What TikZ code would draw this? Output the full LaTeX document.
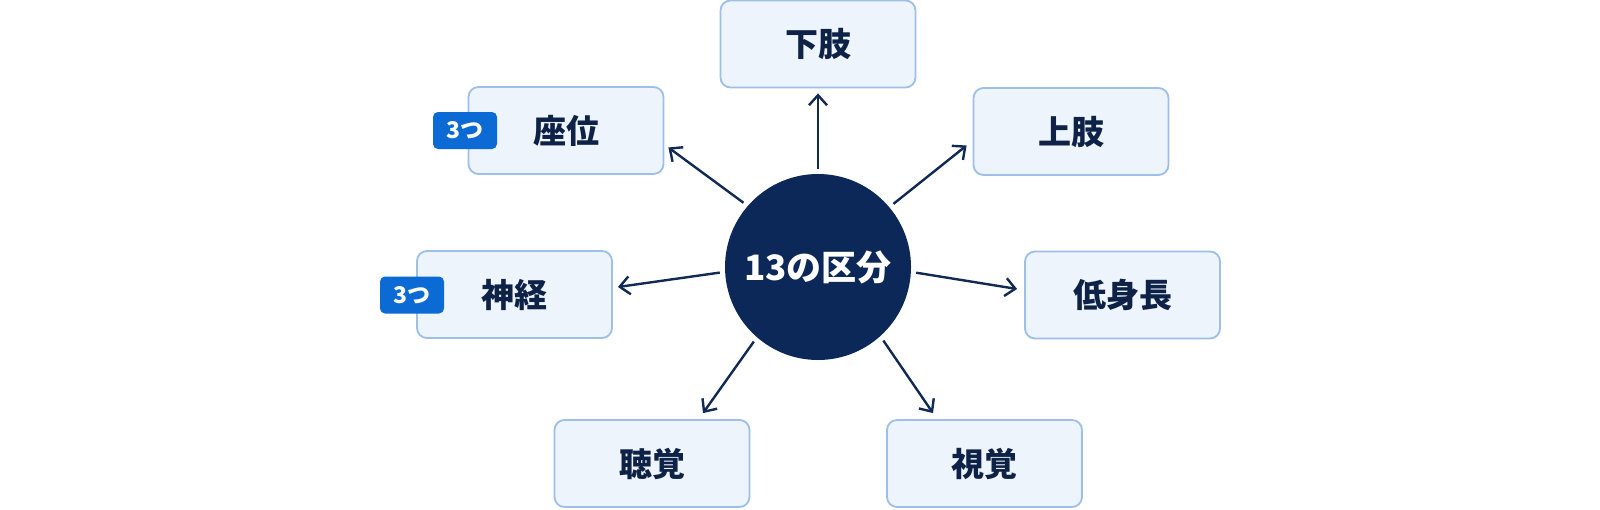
\documentclass[tikz,border=0pt]{standalone}
\usepackage{fontspec}
\setmainfont{Noto Sans CJK JP}
\usetikzlibrary{arrows.meta}
\definecolor{navy}{HTML}{0B2858}
\definecolor{txt}{HTML}{0E2247}
\definecolor{boxfill}{HTML}{EDF4FC}
\definecolor{boxline}{HTML}{9DBFE8}
\definecolor{badge}{HTML}{0B6AD4}
\definecolor{arrcol}{HTML}{102A55}
\tikzset{
  catbox/.style={draw=boxline, fill=boxfill, line width=0.9pt, rounded corners=5pt,
    minimum width=97.5pt, minimum height=43.5pt, inner sep=0pt,
    text=txt, font=\fontsize{16.5}{18}\selectfont\bfseries},
  badgebox/.style={fill=badge, rounded corners=2.5pt, minimum width=32pt, minimum height=18.5pt,
    inner sep=0pt, text=white, font=\fontsize{11.5}{12}\selectfont\bfseries},
  hub/.style={circle, fill=navy, minimum size=93pt, inner sep=0pt, text=white,
    font=\fontsize{17.5}{19}\selectfont\bfseries},
  arr/.style={draw=arrcol, line width=1.2pt, -{Straight Barb[length=5pt,width=9pt]}, shorten <=2.5pt}
}
\begin{document}
\begin{tikzpicture}[x=0.5pt,y=-0.5pt]
\useasboundingbox (0,0) rectangle (1600,509);
\node[hub] (c) at (818,267) {13の区分};
\node[catbox] (kashi) at (818,44) {下肢};
\node[catbox] (joshi) at (1071,131.5) {上肢};
\node[catbox] (zai) at (566,130.5) {座位};
\node[catbox] (shin) at (514.5,294.5) {神経};
\node[catbox] (tei) at (1122.5,295) {低身長};
\node[catbox] (cho) at (652,463.5) {聴覚};
\node[catbox] (shi) at (984.5,463.5) {視覚};
\node[badgebox] (bz) at (465,130.5) {3つ};
\node[badgebox] (bs) at (412,295) {3つ};
\draw[arr, shorten >=2.5pt] (c.90) -- (kashi.south);
\draw[arr] (c.40) -- ([xshift=-3pt,yshift=-7pt]joshi.west);
\draw[arr] (c.139.5) -- ([xshift=2pt,yshift=-8.5pt]zai.east);
\draw[arr] (c.183.6) -- ([xshift=2.5pt,yshift=3.75pt]shin.east);
\draw[arr] (c.-3.5) -- ([xshift=-3.5pt,yshift=3pt]tei.west);
\draw[arr] (c.229.7) -- ([xshift=25.5pt,yshift=3pt]cho.north);
\draw[arr] (c.-48.8) -- ([xshift=-25.75pt,yshift=3pt]shi.north);
\end{tikzpicture}
\end{document}
